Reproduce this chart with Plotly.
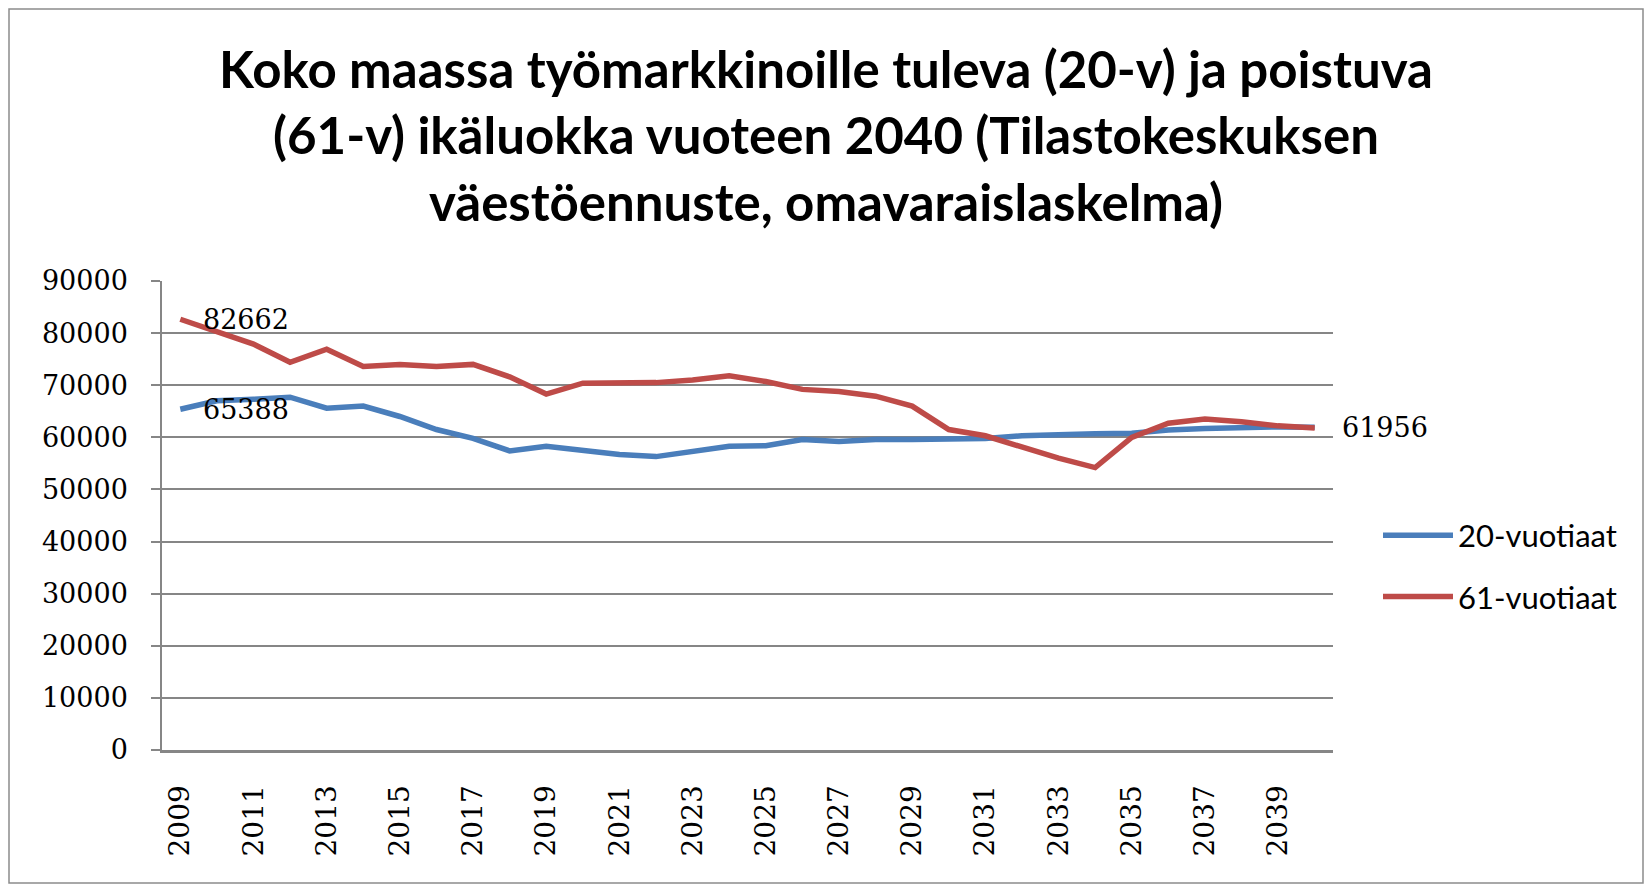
import plotly.graph_objects as go

years = list(range(2009, 2041))
vuotiaat_20 = [65388, 67000, 67300, 67700, 65600, 66000, 64000, 61500, 59800, 57400,
               58300, 57400, 56700, 56300, 57200, 58300, 58400, 59600, 59200, 59600,
               59600, 59600, 59800, 60300, 60600, 60700, 60800, 61400, 61700, 61900,
               62000, 61956]
vuotiaat_61 = [82662, 80300, 77900, 74400, 76900, 73600, 74000, 73600, 74000, 71600,
               68300, 70400, 70400, 70500, 71000, 71800, 70700, 69200, 68800, 67900,
               66000, 61500, 60300, 58100, 56000, 54200, 60000, 62700, 63500, 63000,
               62200, 61800]
series_names = ["20-vuotiaat", "61-vuotiaat"]
tick_years = list(range(2009, 2041, 2))
y_ticks = list(range(0, 90001, 10000))

title_text = ("Koko maassa työmarkkinoille tuleva (20-v) ja poistuva<br>"
              "(61-v) ikäluokka vuoteen 2040 (Tilastokeskuksen<br>"
              "väestöennuste, omavaraislaskelma)")

OFF = 8  # page body offset
W, H = 1652 - 2 * OFF, 892 - 2 * OFF
# plot area bounds in figure pixels
L, R, T, B = 162 - OFF, 1333 - OFF, 281 - OFF, 750 - OFF

fig = go.Figure()
fig.add_trace(go.Scatter(x=years, y=vuotiaat_20, mode="lines", name=series_names[0],
                         line=dict(color="#4A7EBB", width=5.5), legendgroup="a"))
fig.add_trace(go.Scatter(x=years, y=vuotiaat_61, mode="lines", name=series_names[1],
                         line=dict(color="#BE4B48", width=5.5), legendgroup="b"))

lab_font = dict(family="DejaVu Serif", size=27, color="#000000")
labels = [(years[0], vuotiaat_61[0]), (years[0], vuotiaat_20[0]), (years[-1], vuotiaat_20[-1])]
for xv, yv in labels:
    fig.add_annotation(x=xv, y=yv, text=str(yv), showarrow=False, xanchor="left",
                       yanchor="middle", xshift=21 if xv == years[0] else 25, font=lab_font)

def px_to_paper_x(px):
    return (px - OFF - L) / (R - L)

def px_to_paper_y(py):
    return (B - (py - OFF)) / (B - T)

fig.add_shape(type="rect", xref="paper", yref="paper",
              x0=px_to_paper_x(9), x1=px_to_paper_x(1643),
              y0=px_to_paper_y(883), y1=px_to_paper_y(9),
              line=dict(color="#8C8C8C", width=1.5), layer="below")

fig.update_layout(
    width=W, height=H,
    margin=dict(l=L, r=W - R, t=T, b=H - B, pad=0),
    paper_bgcolor="white", plot_bgcolor="white",
    title=dict(text=title_text, x=0.5, xanchor="center", y=1 - 80 / H, yanchor="top",
               font=dict(family="Lato", size=51, color="#000000", weight="bold")),
    showlegend=True,
    legend=dict(x=px_to_paper_x(1378), xanchor="left", y=px_to_paper_y(566), yanchor="middle",
                font=dict(family="Lato", size=31, color="#000000"),
                itemwidth=70, traceorder="grouped", tracegroupgap=18,
                bgcolor="rgba(0,0,0,0)"),
    xaxis=dict(range=[2008.5, 2040.5], tickmode="array", tickvals=tick_years,
               ticktext=[str(y) for y in tick_years], tickangle=-90,
               tickfont=dict(family="DejaVu Serif", size=28, color="#000000"),
               showgrid=False, zeroline=False, showline=True, linecolor="#868686",
               linewidth=3, ticks="", ticklabelstandoff=21),
    yaxis=dict(range=[0, 90000], tickmode="array", tickvals=y_ticks,
               ticktext=[str(v) for v in y_ticks],
               tickfont=dict(family="DejaVu Serif", size=27, color="#000000"),
               showgrid=True, gridcolor="#868686", gridwidth=1.5, zeroline=False,
               showline=True, linecolor="#868686", linewidth=1.5,
               ticks="outside", ticklen=9, tickcolor="#868686", tickwidth=1.5,
               ticklabelstandoff=18),
)

fig.write_html("out.html")
